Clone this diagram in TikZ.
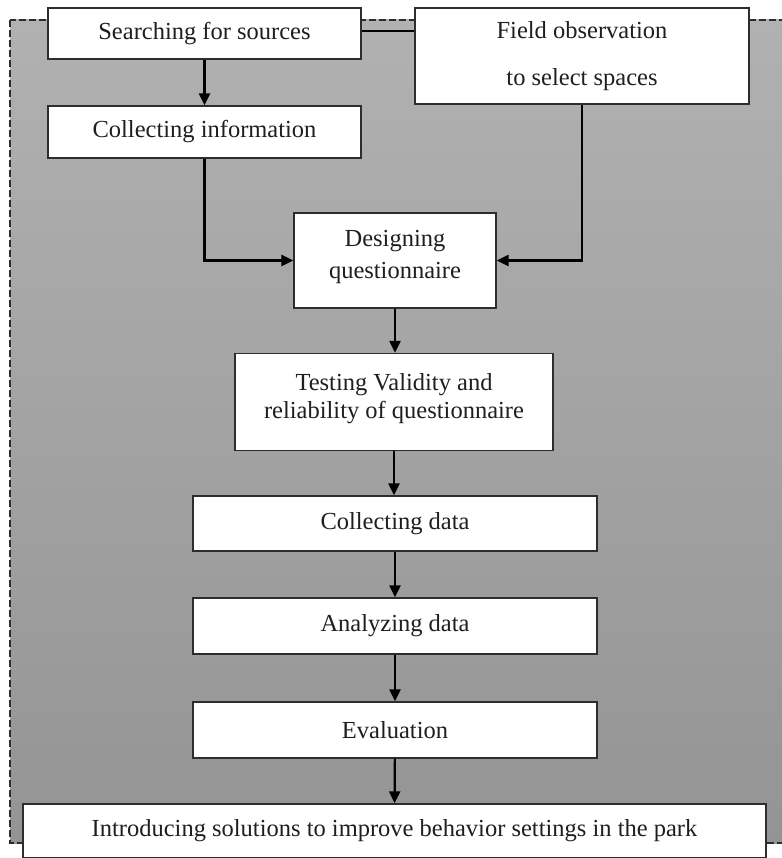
\documentclass[tikz,border=0pt]{standalone}
\usepackage{fontspec}
\setmainfont{Liberation Serif}
\usepackage{tikz}
\usetikzlibrary{arrows.meta}
\definecolor{bgtop}{RGB}{177,177,177}
\definecolor{bgbot}{RGB}{148,148,148}
\definecolor{edge}{RGB}{45,45,45}
\tikzset{
	stepbox/.style={draw=edge, line width=1.3pt, fill=white, text=black!88, align=center, inner sep=0pt},
	flow/.style={line width=2.2pt, -{Triangle[length=12pt,width=11pt]}},
}
\begin{document}
\begin{tikzpicture}[x=1pt, y=-1pt, font=\fontsize{24.5}{30}\selectfont]
		\useasboundingbox (0,0) rectangle (781,858);
		\fill[top color=bgtop, bottom color=bgbot] (10,20) rectangle (800,843);
		\draw[line width=1.8pt, dash pattern=on 7pt off 3pt, edge] (10,20) rectangle (800,843);
		\coordinate (S) at (204.5,33.5);
		\coordinate (F) at (582,56);
		\coordinate (C) at (204.5,132);
		\coordinate (D) at (395,260.5);
		\coordinate (T) at (394,402);
		\coordinate (K) at (395,523.5);
		\coordinate (A) at (395,626);
		\coordinate (E) at (395,730);
		\coordinate (I) at (394.5,831);
		\node[stepbox, minimum width=313pt, minimum height=51pt] (search) at (S) {Searching for sources};
		\node[stepbox, minimum width=334pt, minimum height=96pt] (field) at (F) {Field observation\\[17pt]to select spaces};
		\node[stepbox, minimum width=313pt, minimum height=52pt] (collinfo) at (C) {Collecting information};
		\node[stepbox, minimum width=202pt, minimum height=95pt] (design) at (D) {\raisebox{12pt}{\shortstack{Designing\\[7pt]questionnaire}}};
		\node[stepbox, minimum width=318pt, minimum height=97pt] (testing) at (T) {\raisebox{12pt}{\shortstack{Testing Validity and\\[3pt]reliability of questionnaire}}};
		\node[stepbox, minimum width=404pt, minimum height=55pt] (colldata) at (K) {Collecting data};
		\node[stepbox, minimum width=404pt, minimum height=56pt] (analyze) at (A) {Analyzing data};
		\node[stepbox, minimum width=404pt, minimum height=56pt] (evaluate) at (E) {Evaluation};
		\node[stepbox, minimum width=743pt, minimum height=54pt] (intro) at (I) {Introducing solutions to improve behavior settings in the park};
		\draw[line width=2pt] ([yshift=2.5pt]search.east) -- ([yshift=2.5pt]search.east -| field.west);
		\draw[flow] (search) -- (collinfo);
		\draw[flow] (collinfo.south) |- (design.west);
		\draw[flow] (field.south) |- (design.east);
		\draw[flow] (design.south) -- (design.south |- testing.north);
		\draw[flow] (testing.south) -- (testing.south |- colldata.north);
		\draw[flow] (colldata) -- (analyze);
		\draw[flow] (analyze) -- (evaluate);
		\draw[flow] (evaluate) -- (intro);
		\end{tikzpicture}
\end{document}
